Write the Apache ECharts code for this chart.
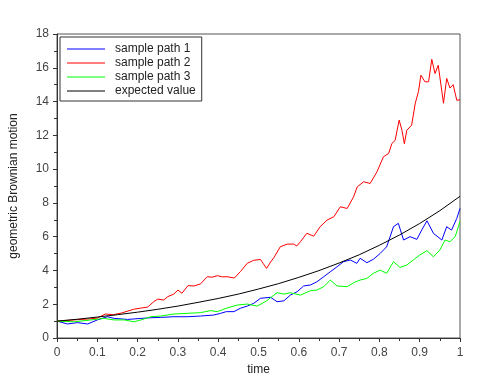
<!DOCTYPE html>
<html>
<head>
<meta charset="utf-8">
<script src="https://cdn.jsdelivr.net/npm/echarts@6/dist/echarts.min.js"></script>
<style>html,body{margin:0;padding:0;background:#fff}#c{width:500px;height:381px}</style>
</head>
<body>
<div id="c"></div>
<script>
// ---- data ----
const seriesNames = ['sample path 1', 'sample path 2', 'sample path 3', 'expected value'];
const xTicks = [0, 0.1, 0.2, 0.3, 0.4, 0.5, 0.6, 0.7, 0.8, 0.9, 1];
const yTicks = [0, 2, 4, 6, 8, 10, 12, 14, 16, 18];

const path1T = [0, 0.026, 0.051, 0.076, 0.1, 0.125, 0.142, 0.175, 0.208, 0.233, 0.257, 0.29, 0.323, 0.356, 0.389, 0.406, 0.42, 0.439, 0.455, 0.472, 0.488, 0.505, 0.53, 0.546, 0.563, 0.579, 0.596, 0.612, 0.629, 0.645, 0.662, 0.678, 0.695, 0.711, 0.728, 0.744, 0.752, 0.769, 0.785, 0.802, 0.818, 0.835, 0.847, 0.86, 0.876, 0.893, 0.905, 0.918, 0.934, 0.955, 0.967, 0.979, 0.992, 1.0];
const path1V = [1.0, 0.83, 0.91, 0.83, 1.07, 1.26, 1.16, 1.1, 1.16, 1.2, 1.22, 1.26, 1.26, 1.3, 1.36, 1.46, 1.56, 1.56, 1.76, 1.89, 2.05, 2.35, 2.41, 2.15, 2.2, 2.54, 2.74, 3.08, 3.14, 3.33, 3.63, 3.92, 4.22, 4.52, 4.62, 4.42, 4.72, 4.46, 4.66, 5.01, 5.4, 6.59, 6.79, 5.8, 6.0, 5.84, 6.39, 6.94, 6.2, 5.8, 6.59, 6.39, 7.08, 7.67];

const path2T = [0, 0.03, 0.06, 0.08, 0.1, 0.12, 0.14, 0.16, 0.19, 0.21, 0.225, 0.24, 0.25, 0.265, 0.275, 0.29, 0.3, 0.31, 0.325, 0.34, 0.356, 0.373, 0.385, 0.398, 0.41, 0.422, 0.44, 0.455, 0.472, 0.488, 0.505, 0.512, 0.52, 0.53, 0.538, 0.554, 0.571, 0.587, 0.595, 0.604, 0.62, 0.637, 0.653, 0.67, 0.687, 0.703, 0.72, 0.736, 0.745, 0.761, 0.777, 0.794, 0.81, 0.823, 0.831, 0.839, 0.849, 0.856, 0.862, 0.868, 0.88, 0.889, 0.897, 0.903, 0.913, 0.922, 0.93, 0.938, 0.946, 0.95, 0.959, 0.967, 0.975, 0.983, 0.992, 1.0];
const path2V = [1.0, 1.05, 1.1, 1.13, 1.18, 1.42, 1.38, 1.48, 1.7, 1.78, 1.83, 2.15, 2.3, 2.25, 2.45, 2.6, 2.84, 2.65, 3.1, 3.08, 3.2, 3.63, 3.6, 3.69, 3.62, 3.63, 3.55, 3.93, 4.42, 4.6, 4.65, 4.4, 4.12, 4.5, 4.75, 5.4, 5.56, 5.56, 5.45, 5.7, 6.2, 6.03, 6.59, 6.98, 7.18, 7.77, 7.67, 8.36, 8.95, 9.25, 9.15, 9.84, 10.73, 10.93, 11.52, 11.7, 12.9, 12.3, 11.5, 12.3, 12.6, 13.9, 14.6, 15.56, 15.17, 15.17, 16.5, 15.66, 16.15, 15.46, 13.9, 15.37, 14.8, 15.0, 14.08, 14.1];

const path3T = [0, 0.043, 0.084, 0.117, 0.142, 0.167, 0.191, 0.208, 0.233, 0.257, 0.29, 0.323, 0.356, 0.381, 0.398, 0.42, 0.447, 0.472, 0.497, 0.52, 0.546, 0.563, 0.579, 0.604, 0.629, 0.645, 0.662, 0.678, 0.695, 0.72, 0.736, 0.752, 0.769, 0.785, 0.802, 0.818, 0.835, 0.851, 0.868, 0.884, 0.9, 0.918, 0.934, 0.95, 0.963, 0.975, 0.988, 1.0];
const path3V = [1.0, 0.96, 1.07, 1.16, 1.07, 1.07, 0.96, 1.07, 1.26, 1.3, 1.42, 1.46, 1.5, 1.62, 1.56, 1.76, 1.95, 2.01, 1.89, 2.2, 2.68, 2.6, 2.68, 2.54, 2.8, 2.84, 3.04, 3.43, 3.08, 3.04, 3.27, 3.43, 3.53, 3.83, 4.02, 3.83, 4.52, 4.18, 4.32, 4.62, 4.91, 5.17, 4.81, 5.21, 5.8, 5.7, 6.0, 6.9];

const expT = [0, 0.05, 0.1, 0.15, 0.2, 0.25, 0.3, 0.35, 0.4, 0.45, 0.5, 0.55, 0.6, 0.65, 0.7, 0.75, 0.8, 0.85, 0.9, 0.95, 1.0];
const expV = [1.0, 1.11, 1.24, 1.38, 1.53, 1.70, 1.89, 2.11, 2.34, 2.60, 2.90, 3.22, 3.59, 3.99, 4.44, 4.93, 5.49, 6.10, 6.78, 7.54, 8.39];

const colors = ['#0000ff', '#ff0000', '#00ff00', '#000000'];

function pairs(t, v) { return t.map((x, i) => [x, v[i]]); }
const allData = [pairs(path1T, path1V), pairs(path2T, path2V), pairs(path3T, path3V), pairs(expT, expV)];

const chart = echarts.init(document.getElementById('c'), null, { renderer: 'canvas' });
const axisCol = '#333';
const font = 'Liberation Sans, Arial, sans-serif';
chart.setOption({
  animation: false,
  backgroundColor: '#fff',
  grid: { left: 56, right: 40, top: 34, bottom: 43, show: true, borderColor: '#555', borderWidth: 1 },
  legend: {
    orient: 'vertical', left: 60, top: 37,
    data: seriesNames,
    icon: 'rect', itemWidth: 38, itemHeight: 1, itemGap: 0,
    borderColor: '#333', borderWidth: 1, borderRadius: 0,
    padding: [5, 6, 3, 7],
    textStyle: { fontFamily: font, fontSize: 12, color: '#222', lineHeight: 14, height: 14, padding: [0, 0, 0, 5] }
  },
  xAxis: {
    type: 'value', min: xTicks[0], max: xTicks[xTicks.length - 1], interval: 0.1,
    name: 'time', nameLocation: 'middle', nameGap: 23,
    nameTextStyle: { fontFamily: font, fontSize: 12, color: '#222' },
    axisLine: { lineStyle: { color: axisCol } },
    axisTick: { show: true, length: 4, lineStyle: { color: axisCol } },
    minorTick: { show: true, splitNumber: 2, length: 3, lineStyle: { color: axisCol } },
    axisLabel: { fontFamily: font, fontSize: 12, color: '#444', margin: 9, formatter: v => String(+v.toFixed(1)) },
    splitLine: { show: false }
  },
  yAxis: {
    type: 'value', min: yTicks[0], max: yTicks[yTicks.length - 1], interval: 2,
    name: 'geometric Brownian motion', nameLocation: 'middle', nameGap: 37, nameRotate: 90,
    nameTextStyle: { fontFamily: font, fontSize: 12, color: '#222' },
    axisLine: { show: true, lineStyle: { color: axisCol } },
    axisTick: { show: true, length: 4, lineStyle: { color: axisCol } },
    minorTick: { show: true, splitNumber: 2, length: 3, lineStyle: { color: axisCol } },
    axisLabel: { fontFamily: font, fontSize: 12, color: '#444', margin: 8 },
    splitLine: { show: false }
  },
  series: seriesNames.map((n, i) => ({
    name: n, type: 'line', data: allData[i], showSymbol: false, symbol: 'none',
    lineStyle: { color: colors[i], width: 1 }, itemStyle: { color: colors[i] },
    z: i === 3 ? 3 : 2
  }))
});
</script>
</body>
</html>
